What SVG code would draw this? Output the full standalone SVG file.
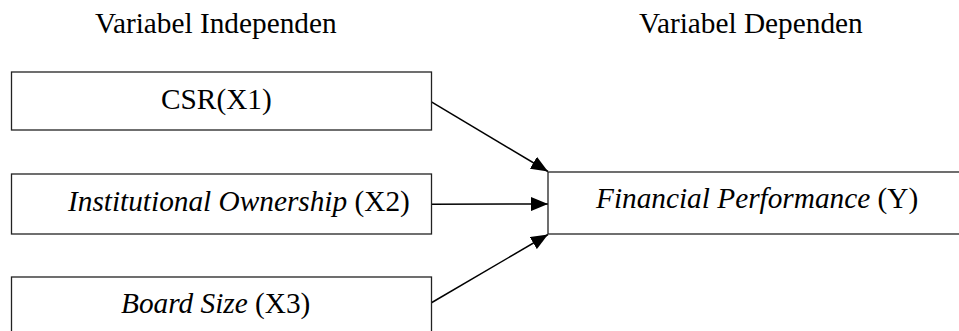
<svg xmlns="http://www.w3.org/2000/svg" width="959" height="331" viewBox="0 0 959 331">
<style>
text{font-family:'Liberation Serif','DejaVu Serif',serif;font-size:29.3px;fill:#000}
.i{font-style:italic}
.box{fill:#fff;stroke:#222;stroke-width:1.3}
.c{stroke:#000;stroke-width:1.5;fill:none;marker-end:url(#ah)}
</style>
<defs>
<marker id="ah" markerUnits="userSpaceOnUse" markerWidth="17" markerHeight="14" refX="17" refY="7" orient="auto">
<path d="M0,0 L17,7 L0,14 z" fill="#000"/>
</marker>
</defs>
<rect width="959" height="331" fill="#fff"/>
<text x="95" y="33">Variabel Independen</text>
<text x="639" y="33">Variabel Dependen</text>
<g id="connectors">
<line class="c" x1="431" y1="101.7" x2="548" y2="171.5"/>
<line class="c" x1="431" y1="204.3" x2="548" y2="204"/>
<line class="c" x1="431" y1="303" x2="548" y2="234.5"/>
</g>
<g id="x1">
<rect class="box" x="11.5" y="72" width="420" height="58"/>
<text x="161" y="109">CSR(X1)</text>
</g>
<g id="x2">
<rect class="box" x="11.5" y="174" width="420" height="60"/>
<text x="68" y="211"><tspan class="i">Institutional Ownership</tspan> (X2)</text>
</g>
<g id="x3">
<rect class="box" x="11.5" y="277" width="420" height="70"/>
<text x="121" y="313"><tspan class="i">Board Size</tspan> (X3)</text>
</g>
<g id="y">
<rect class="box" x="548" y="172" width="430" height="62"/>
<text x="596" y="208"><tspan class="i">Financial Performance</tspan> (Y)</text>
</g>
</svg>
